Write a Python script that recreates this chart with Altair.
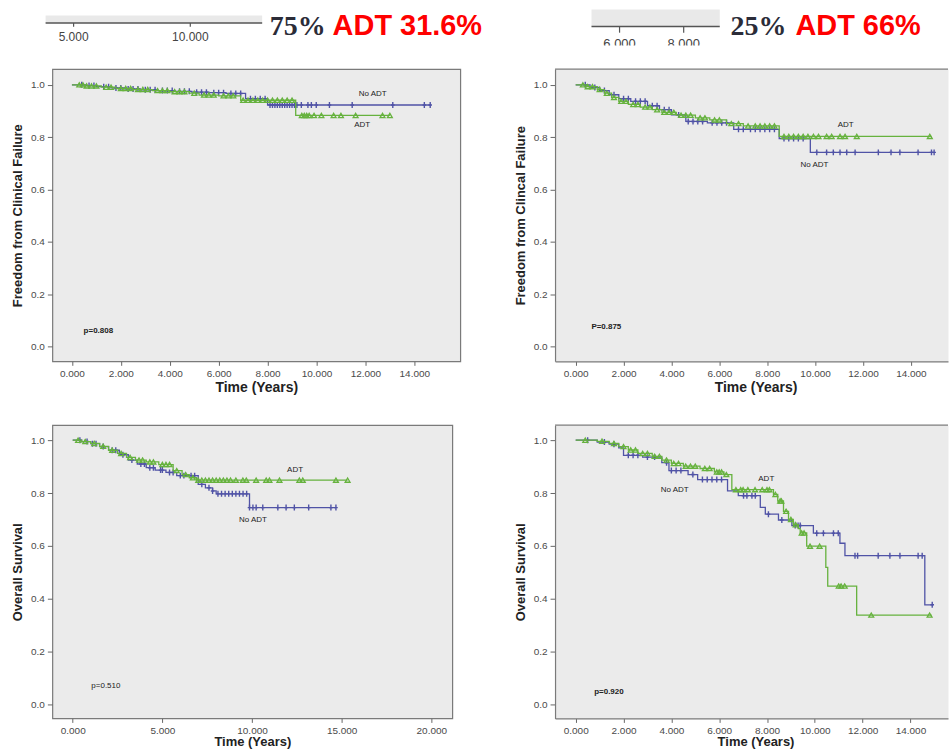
import altair as alt
import pandas as pd

BLUE = "#5053a6"
GREEN = "#66b23e"
PANEL_FILL = "#ebebeb"
FRAME = "#7a7a7a"
STRIP_FILL = "#e9e9e9"
FONT = "Liberation Sans"
SERIF = "Liberation Serif"

# ---------------- Freedom from clinical failure, 75% cohort ----------------
ffcf75_noadt_t = [0, 0.6, 1.0, 1.6, 2.2, 2.8, 3.5, 4.2, 4.9, 5.6, 6.3, 7.1, 8.0]
ffcf75_noadt_s = [1.0, 0.997, 0.993, 0.988, 0.984, 0.981, 0.978, 0.975, 0.972, 0.970, 0.967, 0.947, 0.923]
ffcf75_noadt_end = 14.65
ffcf75_noadt_cens = [0.4, 0.7, 0.9, 1.3, 1.5, 1.8, 2.0, 2.3, 2.5, 2.7, 3.0, 3.2, 3.4, 3.7, 3.9, 4.1,
                     4.4, 4.6, 4.8, 5.1, 5.3, 5.5, 5.8, 6.0, 6.2, 6.5, 6.7, 6.9, 7.3, 7.5, 7.7, 7.9,
                     8.1, 8.2, 8.3, 8.4, 8.5, 8.6, 8.7, 8.8, 8.9, 9.0, 9.1, 9.2, 9.38, 9.65, 9.79,
                     9.99, 10.53, 11.46, 13.12, 14.41, 14.65]

ffcf75_adt_t = [0, 0.5, 1.2, 1.8, 2.5, 3.3, 4.0, 4.8, 5.2, 6.0, 6.9, 9.15]
ffcf75_adt_s = [1.0, 0.996, 0.991, 0.986, 0.982, 0.978, 0.974, 0.968, 0.961, 0.958, 0.941, 0.883]
ffcf75_adt_end = 13.0
ffcf75_adt_cens = [0.3, 0.45, 0.6, 0.8, 1.0, 1.4, 1.6, 2.0, 2.2, 2.4, 2.7, 2.9, 3.1, 3.5, 3.7, 3.9,
                   4.2, 4.4, 4.6, 5.0, 5.4, 5.6, 5.8, 6.2, 6.4, 6.6, 7.0, 7.2, 7.4, 7.6, 7.8, 8.0,
                   8.2, 8.4, 8.6, 8.8, 9.0, 9.4, 9.5, 9.6, 9.7, 9.9, 10.2, 10.7, 11.0, 11.6, 12.7, 13.0]

# ---------------- Freedom from clinical failure, 25% cohort ----------------
ffcf25_adt_t = [0, 0.5, 0.9, 1.2, 1.5, 1.8, 2.2, 2.7, 3.2, 3.6, 4.2, 5.0, 5.6, 6.3, 7.0, 8.5]
ffcf25_adt_s = [1.0, 0.993, 0.982, 0.968, 0.952, 0.937, 0.925, 0.915, 0.905, 0.895, 0.884, 0.874,
                0.866, 0.852, 0.843, 0.803]
ffcf25_adt_end = 14.86
ffcf25_adt_cens = [0.3, 0.5, 0.7, 1.0, 1.3, 1.6, 1.9, 2.1, 2.4, 2.6, 2.9, 3.1, 3.4, 3.7, 3.9, 4.1,
                   4.4, 4.6, 4.8, 5.2, 5.4, 5.8, 6.0, 6.5, 6.8, 7.2, 7.5, 7.7, 7.9, 8.1, 8.3, 8.7,
                   8.9, 9.1, 9.3, 9.5, 9.7, 9.93, 10.14, 10.48, 10.69, 11.04, 11.25, 11.74, 14.79]

ffcf25_noadt_t = [0, 0.6, 1.0, 1.4, 1.8, 2.3, 3.0, 3.5, 4.0, 4.6, 5.5, 6.6, 8.5, 9.8]
ffcf25_noadt_s = [1.0, 0.990, 0.978, 0.962, 0.947, 0.937, 0.920, 0.905, 0.885, 0.860, 0.855, 0.830,
                  0.795, 0.742]
ffcf25_noadt_end = 14.97
ffcf25_noadt_cens = [0.4, 0.8, 1.2, 1.6, 2.0, 2.2, 2.5, 2.7, 2.9, 3.2, 3.4, 3.7, 3.9, 4.3, 4.7, 4.9,
                     5.1, 5.3, 5.7, 5.9, 6.1, 6.3, 6.8, 7.0, 7.3, 7.5, 7.7, 7.9, 8.1, 8.3, 8.7, 8.9,
                     9.1, 9.3, 9.5, 10.07, 10.48, 10.76, 11.04, 11.32, 11.67, 12.64, 13.17, 13.54,
                     14.30, 14.86, 14.97]

# ---------------- Overall survival, 75% cohort ----------------
os75_adt_t = [0, 0.5, 1.0, 1.5, 2.0, 2.5, 3.0, 3.5, 4.1, 4.8, 5.6, 6.1, 6.5, 6.9]
os75_adt_s = [1.0, 0.995, 0.988, 0.977, 0.962, 0.950, 0.935, 0.925, 0.918, 0.908, 0.885, 0.870,
              0.858, 0.849]
os75_adt_end = 15.33
os75_adt_cens = [0.3, 0.7, 1.2, 1.7, 2.2, 2.7, 3.2, 3.7, 3.9, 4.3, 4.5, 5.0, 5.2, 5.4, 5.8, 6.3,
                 6.7, 7.0, 7.2, 7.4, 7.6, 7.8, 8.0, 8.2, 8.4, 8.6, 8.8, 9.1, 9.49, 9.68, 10.23,
                 10.79, 10.97, 11.53, 12.64, 12.83, 14.68, 15.33]

os75_noadt_t = [0, 0.5, 1.0, 1.5, 2.0, 2.6, 3.1, 3.6, 4.1, 4.6, 5.2, 5.8, 7.0, 7.4, 7.8, 8.0, 9.86]
os75_noadt_s = [1.0, 0.995, 0.987, 0.976, 0.962, 0.945, 0.925, 0.910, 0.896, 0.887, 0.878, 0.866,
                0.833, 0.820, 0.808, 0.797, 0.745]
os75_noadt_end = 14.68
os75_noadt_cens = [0.4, 0.8, 1.1, 1.3, 1.7, 2.2, 2.4, 2.8, 3.3, 3.8, 4.0, 4.3, 4.5, 4.9, 5.0, 5.4,
                   5.6, 6.0, 6.2, 6.6, 6.8, 7.2, 7.6, 7.8, 8.1, 8.3, 8.5, 8.7, 8.9, 9.1, 9.3, 9.5,
                   9.7, 9.86, 10.05, 10.23, 10.6, 11.44, 11.9, 12.36, 13.16, 14.4, 14.68]

# ---------------- Overall survival, 25% cohort ----------------
os25_adt_t = [0, 0.9, 1.4, 1.8, 2.2, 2.6, 3.2, 3.6, 4.0, 4.5, 5.2, 5.8, 6.2, 6.53, 8.27, 8.45,
              8.69, 8.9, 9.1, 9.31, 9.39, 9.66, 10.46, 10.54, 11.75]
os25_adt_s = [1.0, 0.996, 0.988, 0.976, 0.963, 0.950, 0.939, 0.925, 0.912, 0.902, 0.893, 0.880,
              0.870, 0.813, 0.795, 0.770, 0.731, 0.700, 0.680, 0.665, 0.649, 0.599, 0.519, 0.448,
              0.338]
os25_adt_end = 14.88
os25_adt_cens = [0.4, 1.1, 1.6, 2.0, 2.3, 2.5, 2.8, 3.0, 3.3, 3.5, 3.8, 4.1, 4.3, 4.6, 4.8, 5.0,
                 5.4, 5.6, 5.9, 6.0, 6.1, 6.3, 6.7, 6.9, 7.0, 7.2, 7.5, 7.8, 8.0, 8.1, 8.35, 8.55,
                 8.6, 8.8, 9.0, 9.2, 9.45, 9.55, 9.8, 10.2, 11.0, 11.1, 11.25, 12.36, 14.8]

os25_noadt_t = [0, 0.9, 1.4, 1.8, 2.0, 2.8, 3.6, 3.9, 4.7, 5.1, 6.35, 6.8, 7.72, 7.93, 8.48, 9.04,
                9.94, 11.05, 11.26, 14.6]
os25_noadt_s = [1.0, 0.993, 0.985, 0.971, 0.943, 0.936, 0.915, 0.885, 0.870, 0.851, 0.808, 0.790,
                0.746, 0.720, 0.698, 0.677, 0.648, 0.610, 0.563, 0.377]
os25_noadt_end = 14.95
os25_noadt_cens = [0.5, 1.2, 1.6, 2.2, 2.4, 2.6, 3.0, 3.3, 3.8, 4.0, 4.2, 4.4, 4.9, 5.3, 5.5, 5.7,
                   5.9, 6.1, 7.02, 7.16, 7.37, 7.51, 8.06, 8.62, 9.18, 9.3, 9.39, 10.08, 10.36,
                   10.78, 10.98, 11.68, 11.79, 12.65, 13.14, 13.56, 14.32, 14.49, 14.91]

# axis tick values and labels
y_ticks = [0.0, 0.2, 0.4, 0.6, 0.8, 1.0]
x_ticks_15 = [0, 2, 4, 6, 8, 10, 12, 14]
x_ticks_20 = [0, 5, 10, 15, 20]
strip_left_ticks = [5, 10]
strip_left_labels = ["5.000", "10.000"]
strip_right_ticks = [6, 8]
strip_right_labels = ["6.000", "8.000"]

PLUS = "M0,-1L0,1M-0.6,0L0.6,0"


def step_value(times, surv, at):
    """Kaplan-Meier estimate in force at time `at`."""
    v = surv[0]
    for tt, ss in zip(times, surv):
        if tt <= at:
            v = ss
    return v


def km_panel(curves, notes, xdom, ydom, xticks, width, height, ytitle, xtitle_center, xtitle_y,
             xtitle_size, open_right):
    x = alt.X("t:Q", scale=alt.Scale(domain=xdom, nice=False, zero=False),
              axis=alt.Axis(values=xticks, format=".3f", title="Time (Years)", grid=False,
                            titleFont=FONT, titleFontSize=xtitle_size, titleFontWeight="bold",
                            titleColor="#222222", titleX=xtitle_center, titleY=xtitle_y,
                            titleBaseline="middle", titleAlign="center",
                            labelFont=FONT, labelFontSize=10, labelColor="#4a4a4a",
                            labelPadding=3, labelOverlap=False, labelFlush=False,
                            tickColor="#666666", tickSize=4,
                            domain=open_right, domainColor=FRAME, domainWidth=1.2))
    y = alt.Y("s:Q", scale=alt.Scale(domain=ydom, nice=False, zero=False),
              axis=alt.Axis(values=y_ticks, format=".1f", title=ytitle, grid=False,
                            titleFont=FONT, titleFontSize=13, titleFontWeight="bold",
                            titleColor="#222222", titleAngle=270, titleX=-35, titleY=height / 2,
                            titleBaseline="middle", titleAlign="center",
                            labelFont=FONT, labelFontSize=10, labelColor="#4a4a4a",
                            labelPadding=3, labelOverlap=False,
                            tickColor="#666666", tickSize=5,
                            domain=open_right, domainColor=FRAME, domainWidth=1.2))
    layers = []
    for times, surv, end, cens, color, shape in curves:
        line_df = pd.DataFrame({"t": list(times) + [end], "s": list(surv) + [surv[-1]]})
        cens_df = pd.DataFrame({"t": cens, "s": [step_value(times, surv, c) for c in cens]})
        layers.append(alt.Chart(line_df).mark_line(interpolate="step-after", color=color,
                                                   strokeWidth=1.3).encode(x=x, y=y))
        if shape == "plus":
            layers.append(alt.Chart(cens_df).mark_point(shape=PLUS, filled=False, color=color,
                                                        size=36, strokeWidth=1.4,
                                                        opacity=1).encode(x=x, y=y))
        else:
            layers.append(alt.Chart(cens_df).mark_point(shape="triangle-up", filled=False,
                                                        color=color, size=24, strokeWidth=1.3,
                                                        opacity=1).encode(x=x, y=y))
    for text, tt, ss, weight in notes:
        df = pd.DataFrame({"t": [tt], "s": [ss], "label": [text]})
        layers.append(alt.Chart(df).mark_text(font=FONT, fontSize=8, fontWeight=weight,
                                              color="#222222", align="center",
                                              baseline="middle").encode(x=x, y=y, text="label:N"))
    if open_right:
        layers.append(alt.Chart(pd.DataFrame({"t": [0]})).mark_rule(color=FRAME, strokeWidth=1.2)
                      .encode(x=alt.value(0), x2=alt.value(width), y=alt.value(0)))
    return alt.layer(*layers)


def axis_strip(domain, band, ticks, labels, band_top, line_y, tick_end, label_y, label_size,
               headline_x, mask=None):
    """Fragment of a neighbouring plot's time axis shown above a panel, with its headline."""
    sx = alt.X("v:Q", scale=alt.Scale(domain=domain, nice=False, zero=False), axis=None)
    band_df = pd.DataFrame({"v": [band[0]], "v2": [band[1]]})
    tick_df = pd.DataFrame({"v": ticks, "label": labels})
    parts = [
        alt.Chart(band_df).mark_rect(color=STRIP_FILL).encode(
            x=sx, x2="v2:Q", y=alt.value(band_top), y2=alt.value(line_y)),
        alt.Chart(band_df).mark_rule(color="#555555", strokeWidth=1.5).encode(
            x=sx, x2="v2:Q", y=alt.value(line_y)),
        alt.Chart(tick_df).mark_rule(color="#555555", strokeWidth=1.2).encode(
            x=sx, y=alt.value(line_y), y2=alt.value(tick_end)),
        alt.Chart(tick_df).mark_text(font=FONT, fontSize=label_size, color="#444444",
                                     baseline="middle").encode(
            x=sx, y=alt.value(label_y), text="label:N"),
    ]
    if mask is not None:
        mask_df = pd.DataFrame({"v": [mask[0]], "v2": [mask[1]]})
        parts.append(alt.Chart(mask_df).mark_rect(color="white").encode(
            x=sx, x2="v2:Q", y=alt.value(mask[2]), y2=alt.value(mask[3])))
    share, pct = headline_x
    parts.append(alt.Chart(pd.DataFrame({"label": [share[0]]})).mark_text(
        font=SERIF, fontWeight="bold", fontSize=28, color="#2b2c38", align="left",
        baseline="alphabetic").encode(x=alt.value(share[1]), y=alt.value(-33.7), text="label:N"))
    parts.append(alt.Chart(pd.DataFrame({"label": [pct[0]]})).mark_text(
        font=FONT, fontWeight="bold", fontSize=29, color="#ff0000", align="left",
        baseline="alphabetic").encode(x=alt.value(pct[1]), y=alt.value(-33.7), text="label:N"))
    return alt.layer(*parts)


ydom_top = [-0.056, 1.06]
ydom_bottom = [-0.053, 1.057]

p1_curves = km_panel(
    [(ffcf75_noadt_t, ffcf75_noadt_s, ffcf75_noadt_end, ffcf75_noadt_cens, BLUE, "plus"),
     (ffcf75_adt_t, ffcf75_adt_s, ffcf75_adt_end, ffcf75_adt_cens, GREEN, "triangle")],
    [("No ADT", 12.3, 0.963, "normal"), ("ADT", 11.87, 0.845, "normal"),
     ("p=0.808", 1.08, 0.058, "bold")],
    [-0.80, 15.88], ydom_top, x_ticks_15, 409, 293,
    "Freedom from Clinical Failure", 204.5, 26, 14, False)
p1_strip = axis_strip([4.090, 21.569], [3.8, 13.08], strip_left_ticks, strip_left_labels,
                      -53.7, -46.3, -42.5, -32, 12, (("75%", 218), ("ADT 31.6%", 281)))
p1 = alt.layer(p1_curves, p1_strip).resolve_scale(x="independent").properties(
    width=409, height=293, view=alt.ViewBackground(fill=PANEL_FILL, stroke=FRAME, strokeWidth=1.2))

p2_curves = km_panel(
    [(ffcf25_noadt_t, ffcf25_noadt_s, ffcf25_noadt_end, ffcf25_noadt_cens, BLUE, "plus"),
     (ffcf25_adt_t, ffcf25_adt_s, ffcf25_adt_end, ffcf25_adt_cens, GREEN, "triangle")],
    [("ADT", 11.28, 0.848, "normal"), ("No ADT", 9.97, 0.694, "normal"),
     ("P=0.875", 1.28, 0.077, "bold")],
    [-0.8625, 15.55], ydom_top, x_ticks_15, 394, 293,
    "Freedom from Clincal Failure", 201, 26, 14, True)
p2_strip = axis_strip([3.988, 16.243], [5.125, 9.125], strip_right_ticks, strip_right_labels,
                      -59.7, -42.7, -36.5, -25.5, 13, (("25%", 176), ("ADT 66%", 241)),
                      mask=(5.2, 9.0, -23.7, -10))
p2 = alt.layer(p2_curves, p2_strip).resolve_scale(x="independent").properties(
    width=394, height=293, view=alt.ViewBackground(fill=PANEL_FILL, stroke="transparent"))

p3 = km_panel(
    [(os75_noadt_t, os75_noadt_s, os75_noadt_end, os75_noadt_cens, BLUE, "plus"),
     (os75_adt_t, os75_adt_s, os75_adt_end, os75_adt_cens, GREEN, "triangle")],
    [("ADT", 12.4, 0.887, "normal"), ("No ADT", 10.05, 0.697, "normal"),
     ("p=0.510", 1.85, 0.069, "normal")],
    [-1.135, 21.17], ydom_bottom, x_ticks_20, 401, 294,
    "Overall Survival", 200.5, 23.5, 13, False).properties(
    width=401, height=294, view=alt.ViewBackground(fill=PANEL_FILL, stroke=FRAME, strokeWidth=1.2))

p4 = km_panel(
    [(os25_noadt_t, os25_noadt_s, os25_noadt_end, os25_noadt_cens, BLUE, "plus"),
     (os25_adt_t, os25_adt_s, os25_adt_end, os25_adt_cens, GREEN, "triangle")],
    [("ADT", 7.97, 0.854, "normal"), ("No ADT", 4.14, 0.813, "normal"),
     ("p=0.920", 1.39, 0.047, "bold")],
    [-0.864, 15.57], ydom_bottom, x_ticks_15, 394, 294,
    "Overall Survival", 201, 23.5, 13, True).properties(
    width=394, height=294, view=alt.ViewBackground(fill=PANEL_FILL, stroke="transparent"))

chart = alt.concat(
    p1, p2, p3, p4, columns=2, spacing={"row": 63, "column": 95}, bounds="flush", align="all"
).properties(
    padding={"left": 10.5, "top": 7.3, "right": 0, "bottom": 0}
).configure(background="white")

chart.save("out.html", embed_options={"renderer": "svg", "actions": False})
